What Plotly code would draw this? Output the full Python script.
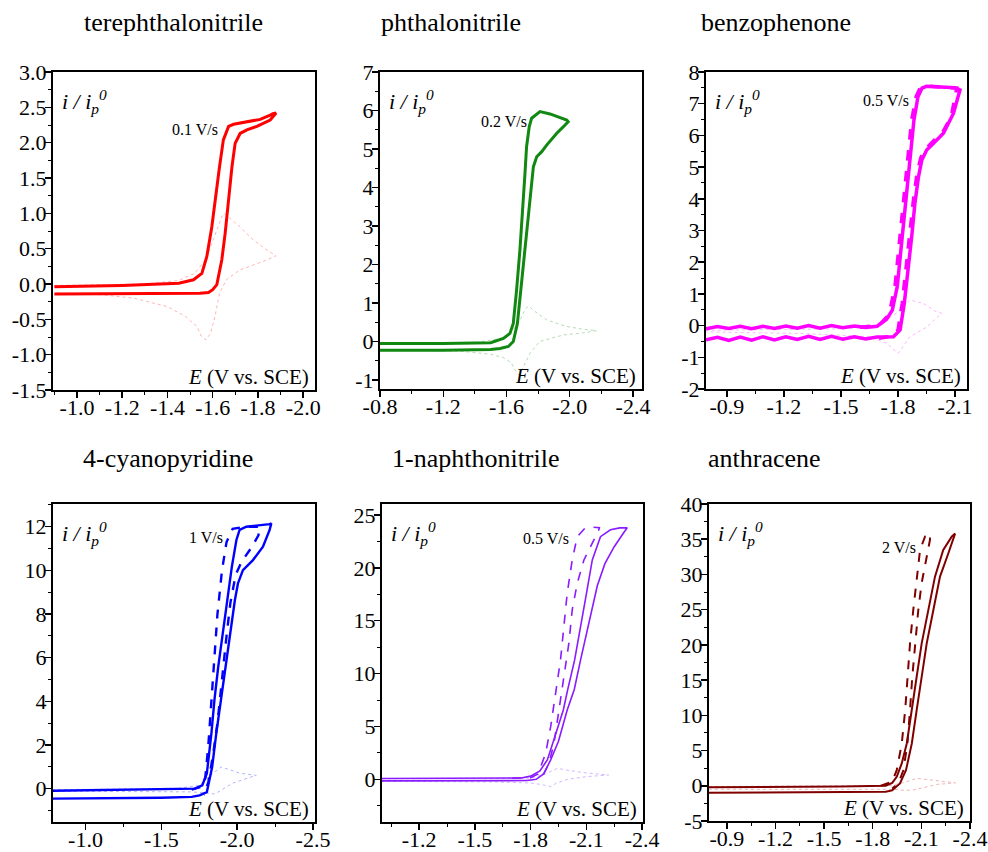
import plotly.graph_objects as go

# ---------------- data ----------------
TITLES = ["terephthalonitrile", "phthalonitrile", "benzophenone",
          "4-cyanopyridine", "1-naphthonitrile", "anthracene"]
RATES = ["0.1 V/s", "0.2 V/s", "0.5 V/s", "1 V/s", "0.5 V/s", "2 V/s"]

# tick labels (hyphen minus as in the reference)
X_TICKS = [
    [-1.0, -1.2, -1.4, -1.6, -1.8, -2.0],
    [-0.8, -1.2, -1.6, -2.0, -2.4],
    [-0.9, -1.2, -1.5, -1.8, -2.1],
    [-1.0, -1.5, -2.0, -2.5],
    [-1.2, -1.5, -1.8, -2.1, -2.4],
    [-0.9, -1.2, -1.5, -1.8, -2.1, -2.4],
]
X_TEXT = [
    ["-1.0", "-1.2", "-1.4", "-1.6", "-1.8", "-2.0"],
    ["-0.8", "-1.2", "-1.6", "-2.0", "-2.4"],
    ["-0.9", "-1.2", "-1.5", "-1.8", "-2.1"],
    ["-1.0", "-1.5", "-2.0", "-2.5"],
    ["-1.2", "-1.5", "-1.8", "-2.1", "-2.4"],
    ["-0.9", "-1.2", "-1.5", "-1.8", "-2.1", "-2.4"],
]
Y_TICKS = [
    [-1.5, -1.0, -0.5, 0.0, 0.5, 1.0, 1.5, 2.0, 2.5, 3.0],
    [-1, 0, 1, 2, 3, 4, 5, 6, 7],
    [-2, -1, 0, 1, 2, 3, 4, 5, 6, 7, 8],
    [0, 2, 4, 6, 8, 10, 12],
    [0, 5, 10, 15, 20, 25],
    [-5, 0, 5, 10, 15, 20, 25, 30, 35, 40],
]
Y_TEXT = [
    ["-1.5", "-1.0", "-0.5", "0.0", "0.5", "1.0", "1.5", "2.0", "2.5", "3.0"],
    ["-1", "0", "1", "2", "3", "4", "5", "6", "7"],
    ["-2", "-1", "0", "1", "2", "3", "4", "5", "6", "7", "8"],
    ["0", "2", "4", "6", "8", "10", "12"],
    ["0", "5", "10", "15", "20", "25"],
    ["-5", "0", "5", "10", "15", "20", "25", "30", "35", "40"],
]

# 1) terephthalonitrile : solid CV loop
TPN_E = [-0.90, -1.20, -1.45, -1.544, -1.581, -1.600, -1.618, -1.640, -1.655, -1.669, -1.685,
         -1.699, -1.721, -1.751, -1.795, -1.854, -1.880, -1.866, -1.854, -1.810, -1.751, -1.692,
         -1.670, -1.647, -1.630, -1.611, -1.596, -1.574, -1.552, -1.515, -1.45, -1.20, -0.90]
TPN_I = [-0.14, -0.14, -0.13, -0.13, -0.12, -0.08, -0.01, 0.34, 0.72, 1.19, 1.66,
         1.99, 2.13, 2.18, 2.23, 2.32, 2.42, 2.41, 2.39, 2.33, 2.30, 2.26,
         2.23, 2.04, 1.66, 1.19, 0.81, 0.39, 0.15, 0.06, 0.01, -0.02, -0.04]
TPN_REF_E = [-0.90, -1.30, -1.45, -1.52, -1.57, -1.61, -1.64, -1.65, -1.72, -1.78, -1.84, -1.88,
             -1.84, -1.78, -1.72, -1.66, -1.63, -1.61, -1.59, -1.57, -1.55, -1.53, -1.48, -1.40,
             -1.25, -1.10, -0.90]
TPN_REF_I = [-0.02, 0.00, 0.05, 0.15, 0.35, 0.70, 0.95, 1.00, 0.81, 0.62, 0.48, 0.40,
             0.34, 0.27, 0.20, 0.06, -0.13, -0.46, -0.70, -0.79, -0.74, -0.60, -0.46, -0.32,
             -0.20, -0.15, -0.13]

# 2) phthalonitrile
PN_E = [-0.80, -1.20, -1.50, -1.559, -1.612, -1.643, -1.669, -1.690, -1.711, -1.732, -1.753, -1.770,
        -1.791, -1.823, -1.854, -1.918, -1.960, -1.990, -1.981, -1.938, -1.875, -1.812, -1.780, -1.759,
        -1.744, -1.727, -1.717, -1.702, -1.685, -1.664, -1.643, -1.622, -1.580, -1.50, -1.20, -0.80]
PN_I = [-0.23, -0.23, -0.21, -0.18, -0.13, 0.00, 0.47, 1.34, 2.20, 3.07, 3.94, 4.54,
        4.80, 4.93, 5.10, 5.41, 5.58, 5.71, 5.75, 5.82, 5.91, 5.97, 5.88, 5.80,
        5.58, 5.06, 4.37, 3.42, 2.38, 1.34, 0.47, 0.21, 0.08, -0.03, -0.05, -0.05]
PN_REF_E = [-0.80, -1.40, -1.60, -1.68, -1.72, -1.74, -1.78, -1.854, -1.98, -2.08, -2.17, -2.08,
            -1.96, -1.81, -1.75, -1.71, -1.68, -1.66, -1.63, -1.58, -1.50, -1.30, -0.80]
PN_REF_I = [-0.05, -0.03, 0.10, 0.50, 0.85, 0.92, 0.78, 0.56, 0.39, 0.32, 0.28, 0.22,
            0.17, 0.00, -0.30, -0.65, -0.87, -0.78, -0.55, -0.42, -0.33, -0.25, -0.22]

# 3) benzophenone (wavy baselines)
BP_BASE_E = [-0.79, -0.85, -0.91, -0.97, -1.03, -1.09, -1.15, -1.21,
             -1.27, -1.33, -1.39, -1.45, -1.51, -1.57, -1.63, -1.69]
BP_LOW_I = [-0.45, -0.37, -0.47, -0.36, -0.46, -0.35, -0.45, -0.35,
            -0.44, -0.34, -0.44, -0.34, -0.43, -0.35, -0.42, -0.36]
BP_UP_I = [-0.10, -0.03, -0.09, -0.02, -0.10, -0.02, -0.09, -0.01,
           -0.08, 0.00, -0.08, 0.00, -0.07, -0.01, -0.06, -0.02]
BP_RISE_E = [-1.776, -1.811, -1.833, -1.854, -1.872, -1.889, -1.908, -1.925, -1.951, -1.987,
             -2.039, -2.092, -2.126]
BP_RISE_I = [-0.35, -0.14, 0.70, 1.75, 2.80, 3.86, 4.70, 5.22, 5.54, 5.75,
             6.07, 6.70, 7.43]
BP_BACK_E = [-2.10, -2.05, -1.95, -1.926, -1.905, -1.884, -1.866, -1.849, -1.831, -1.814,
             -1.796, -1.770, -1.74]
BP_BACK_I = [7.50, 7.52, 7.55, 7.49, 7.22, 6.49, 5.44, 4.38, 3.33, 2.28,
             1.23, 0.49, 0.20]
BPD_E = [-1.60, -1.70, -1.745, -1.758, -1.784, -1.802, -1.819, -1.837, -1.854, -1.872,
         -1.895, -1.916, -1.95, -2.05, -2.109, -2.10, -2.08, -2.04, -1.99, -1.95,
         -1.92, -1.90, -1.88, -1.86, -1.843, -1.822, -1.80, -1.77, -1.70]
BPD_I = [-0.05, 0.00, 0.30, 0.49, 1.23, 2.28, 3.33, 4.38, 5.44, 6.49,
         7.22, 7.49, 7.56, 7.53, 7.49, 7.20, 6.60, 6.15, 5.85, 5.60,
         5.30, 4.80, 3.90, 2.80, 1.75, 0.70, -0.14, -0.33, -0.40]
BP_REF_E = [-0.79, -1.50, -1.69, -1.79, -1.863, -1.933, -2.00, -2.03, -1.95, -1.863, -1.802,
            -1.74, -1.65, -1.30, -0.79]
BP_REF_I = [-0.15, -0.10, -0.03, 0.39, 0.81, 0.70, 0.44, 0.39, -0.05, -0.35, -0.87,
            -0.56, -0.35, -0.25, -0.20]

# 4) 4-cyanopyridine
CP_OUT_E = [-0.78, -1.20, -1.50, -1.70, -1.752, -1.80, -1.835, -1.862, -1.892, -1.925,
            -1.955, -1.985, -2.005, -2.038, -2.104, -2.170, -2.214, -2.225]
CP_OUT_I = [-0.46, -0.44, -0.42, -0.38, -0.31, -0.16, 0.99, 2.52, 4.05, 5.58,
            7.11, 8.64, 9.40, 10.01, 10.47, 11.08, 11.85, 12.15]
CP_BACK_E = [-2.214, -2.06, -2.016, -1.995, -1.965, -1.935, -1.905, -1.875, -1.85, -1.83,
             -1.80, -1.77, -1.72, -1.50, -1.20, -0.78]
CP_BACK_I = [12.12, 12.00, 11.85, 11.39, 10.17, 8.64, 7.11, 5.58, 4.05, 2.52,
             0.69, 0.15, 0.00, -0.02, -0.05, -0.10]
CPD_E = [-1.70, -1.77, -1.79, -1.81, -1.83, -1.85, -1.87, -1.90, -1.93, -1.97,
         -2.05, -2.15, -2.14, -2.09, -2.03, -1.99, -1.955, -1.93, -1.90, -1.87,
         -1.84, -1.81, -1.78]
CPD_I = [-0.05, 0.10, 0.50, 2.00, 4.00, 6.00, 8.00, 10.00, 11.30, 11.90,
         12.00, 12.00, 11.60, 11.00, 10.40, 9.80, 8.50, 7.00, 5.00, 3.00,
         1.50, 0.30, -0.30]
CP_REF_E = [-0.78, -1.60, -1.75, -1.84, -1.895, -1.95, -2.02, -2.126, -2.05, -1.97, -1.90,
            -1.85, -1.80, -1.70, -0.78]
CP_REF_I = [-0.05, 0.00, 0.15, 0.70, 0.99, 0.85, 0.70, 0.61, 0.45, 0.25, -0.05,
            -0.25, -0.20, -0.15, -0.12]

# 5) 1-naphthonitrile
NN_OUT_E = [-1.00, -1.50, -1.78, -1.83, -1.87, -1.908, -1.95, -1.997, -2.035, -2.069,
            -2.108, -2.159, -2.20, -2.25, -2.30, -2.32]
NN_OUT_I = [-0.15, -0.14, -0.12, 0.00, 0.50, 1.83, 3.60, 6.56, 8.50, 11.29,
            14.44, 18.30, 20.40, 22.00, 23.30, 23.80]
NN_BACK_E = [-2.28, -2.23, -2.176, -2.132, -2.101, -2.069, -2.037, -2.00, -1.976, -1.93,
             -1.89, -1.85, -1.80, -1.75, -1.50, -1.00]
NN_BACK_I = [23.78, 23.60, 22.95, 20.75, 17.60, 14.44, 11.29, 8.50, 6.56, 4.00,
             1.83, 0.80, 0.30, 0.12, 0.10, 0.08]
NND_E = [-1.70, -1.80, -1.84, -1.881, -1.908, -1.935, -1.961, -1.979, -1.997, -2.024,
         -2.051, -2.09, -2.13, -2.17, -2.167, -2.132, -2.087, -2.051, -2.024, -2.006,
         -1.979, -1.952, -1.926, -1.899, -1.87, -1.84]
NND_I = [0.10, 0.15, 0.50, 2.46, 4.98, 8.14, 11.29, 14.44, 17.60, 20.75,
         22.95, 23.70, 23.85, 23.80, 23.59, 22.33, 20.75, 18.54, 16.02, 12.87,
         9.71, 6.56, 3.41, 1.51, 0.50, 0.20]
NN_REF_E = [-1.00, -1.80, -1.88, -1.944, -2.00, -2.10, -2.22, -2.10, -2.00, -1.94, -1.908,
            -1.86, -1.80, -1.60, -1.00]
NN_REF_I = [0.05, 0.10, 0.50, 1.04, 0.85, 0.60, 0.41, 0.25, 0.00, -0.35, -0.70,
            -0.50, -0.35, -0.25, -0.20]

# 6) anthracene
AN_OUT_E = [-0.79, -1.20, -1.60, -1.88, -1.92, -1.968, -2.005, -2.041, -2.071, -2.102,
            -2.133, -2.174, -2.215, -2.266, -2.308]
AN_OUT_I = [-1.00, -0.95, -0.95, -0.85, -0.65, 0.34, 2.20, 6.00, 10.75, 15.48,
            20.22, 24.95, 29.69, 32.97, 35.80]
AN_BACK_E = [-2.287, -2.235, -2.184, -2.143, -2.102, -2.071, -2.041, -2.010, -1.979, -1.948,
             -1.92, -1.88, -1.60, -1.20, -0.79]
AN_BACK_I = [35.37, 33.48, 29.69, 24.95, 20.22, 15.48, 10.75, 6.00, 3.17, 1.28,
             0.40, 0.00, -0.10, -0.10, -0.20]
AND_E = [-1.85, -1.92, -1.948, -1.979, -2.000, -2.014, -2.030, -2.050, -2.071, -2.092,
         -2.123, -2.153, -2.153, -2.133, -2.102, -2.081, -2.061, -2.044, -2.030, -2.014,
         -1.989, -1.958, -1.92]
AND_I = [0.00, 0.60, 2.22, 5.97, 10.70, 15.48, 20.20, 24.95, 29.70, 33.50,
         35.40, 35.80, 34.90, 32.50, 28.80, 24.95, 20.20, 15.48, 10.75, 6.00,
         2.20, 0.35, -0.40]
AN_REF_E = [-0.79, -1.90, -2.00, -2.07, -2.15, -2.23, -2.31, -2.20, -2.10, -2.05, -2.00,
            -1.95, -1.85, -0.79]
AN_REF_I = [-0.10, 0.00, 0.50, 1.05, 0.85, 0.60, 0.42, 0.20, -0.30, -0.60, -0.65,
            -0.55, -0.50, -0.50]

# ---------------- assemble curves ----------------
solid = [
    (TPN_E, TPN_I),
    (PN_E, PN_I),
    (BP_BASE_E + BP_RISE_E + BP_BACK_E + BP_BASE_E[::-1],
     BP_LOW_I + BP_RISE_I + BP_BACK_I + BP_UP_I[::-1]),
    (CP_OUT_E + CP_BACK_E, CP_OUT_I + CP_BACK_I),
    (NN_OUT_E + NN_BACK_E, NN_OUT_I + NN_BACK_I),
    (AN_OUT_E + AN_BACK_E, AN_OUT_I + AN_BACK_I),
]
dashed = [None, None, (BPD_E, BPD_I), (CPD_E, CPD_I), (NND_E, NND_I), (AND_E, AND_I)]
refs = [(TPN_REF_E, TPN_REF_I), (PN_REF_E, PN_REF_I), (BP_REF_E, BP_REF_I),
        (CP_REF_E, CP_REF_I), (NN_REF_E, NN_REF_I), (AN_REF_E, AN_REF_I)]

# ---------------- styling / layout ----------------
W, H = 988, 852
BOX = [(53, 72, 315, 390), (380, 72, 642, 389), (706, 72, 967, 389),
       (53, 504, 315, 822), (382, 504, 643, 822), (709, 504, 970, 821)]
COLORS = ["#ff0000", "#118811", "#ff00ff", "#0000ff", "#8a1aff", "#800000"]
REFCOL = ["#ffb4b4", "#b4dcb4", "#ffb4ff", "#b4b4ff", "#d0b8ff", "#f0b4b4"]
WIDTHS = [3.0, 3.0, 3.5, 2.4, 1.6, 2.0]
XR = [(-0.894, -2.052), (-0.8, -2.457), (-0.79, -2.163),
      (-0.786, -2.513), (-1.0, -2.405), (-0.79, -2.40)]
YR = [(-1.5, 3.0), (-1.234, 7.0), (-2.0, 8.0), (-1.53, 13.04), (-4.04, 26.04), (-5.0, 40.0)]
XD = [0.2, 0.4, 0.3, 0.5, 0.3, 0.3]
YD = [0.5, 1, 1, 2, 5, 5]
RATE_POS = [(195, 130), (504, 122), (886, 101), (206, 537), (546, 538), (899, 547)]
TITLE_POS = [(173, 22), (451, 22), (776, 22), (168, 458), (476, 458), (764, 458)]

FONT = "Liberation Serif, Times New Roman, serif"

fig = go.Figure()
for k in range(6):
    ax = "" if k == 0 else str(k + 1)
    xa, ya = "x" + ax, "y" + ax
    re_, ri_ = refs[k]
    fig.add_trace(go.Scatter(x=re_, y=ri_, mode="lines", xaxis=xa, yaxis=ya,
                             line=dict(color=REFCOL[k], width=1, dash="dot"), hoverinfo="skip"))
    se, si = solid[k]
    fig.add_trace(go.Scatter(x=se, y=si, mode="lines", xaxis=xa, yaxis=ya,
                             line=dict(color=COLORS[k], width=WIDTHS[k]), hoverinfo="skip"))
    if dashed[k] is not None:
        de, di = dashed[k]
        fig.add_trace(go.Scatter(x=de, y=di, mode="lines", xaxis=xa, yaxis=ya,
                                 line=dict(color=COLORS[k], width=WIDTHS[k], dash="dash"),
                                 hoverinfo="skip"))

layout = dict(width=W, height=H, margin=dict(l=0, r=0, t=0, b=0, autoexpand=False),
              showlegend=False, template="none",
              paper_bgcolor="white", plot_bgcolor="white",
              font=dict(family=FONT, color="black", size=20))
annotations = []
for k in range(6):
    l, t, r, b = BOX[k]
    ax = "" if k == 0 else str(k + 1)
    common = dict(showline=True, mirror=True, linecolor="black", linewidth=2,
                  ticks="outside", ticklen=6, tickwidth=1.5, tickcolor="black",
                  showgrid=False, zeroline=False, automargin=False,
                  tickfont=dict(family=FONT, size=22, color="black"))
    layout["xaxis" + ax] = dict(common, domain=[l / W, r / W], anchor="y" + ax,
                                range=list(XR[k]), tickmode="array",
                                tickvals=X_TICKS[k], ticktext=X_TEXT[k],
                                ticklabelstandoff=-9,
                                minor=dict(tickmode="linear", tick0=0, dtick=XD[k] / 2,
                                           ticks="outside", ticklen=3,
                                           tickwidth=1, tickcolor="black", showgrid=False))
    layout["yaxis" + ax] = dict(common, domain=[1 - b / H, 1 - t / H], anchor="x" + ax,
                                range=list(YR[k]), tickmode="array",
                                tickvals=Y_TICKS[k], ticktext=Y_TEXT[k],
                                ticklabelstandoff=-6,
                                minor=dict(tickmode="linear", tick0=0, dtick=YD[k] / 2,
                                           ticks="outside", ticklen=3,
                                           tickwidth=1, tickcolor="black", showgrid=False))
    tx, ty = TITLE_POS[k]
    annotations.append(dict(text=TITLES[k], x=tx / W, y=1 - ty / H, xref="paper", yref="paper",
                            showarrow=False, xanchor="center", yanchor="middle",
                            font=dict(family=FONT, size=26, color="black")))
    annotations.append(dict(text="<i>i / i<sub>p</sub><sup>0</sup></i>", x=(l + 7) / W,
                            y=1 - (t + 12) / H, xref="paper", yref="paper", showarrow=False,
                            xanchor="left", yanchor="top",
                            font=dict(family=FONT, size=22, color="black")))
    annotations.append(dict(text="<i>E</i> (V vs. SCE)", x=(r - 4) / W, y=1 - (b - 13) / H,
                            xref="paper", yref="paper", showarrow=False,
                            xanchor="right", yanchor="middle",
                            font=dict(family=FONT, size=21, color="black")))
    rx, ry = RATE_POS[k]
    annotations.append(dict(text=RATES[k], x=rx / W, y=1 - ry / H, xref="paper", yref="paper",
                            showarrow=False, xanchor="center", yanchor="middle",
                            font=dict(family=FONT, size=16, color="black")))
layout["annotations"] = annotations
fig.update_layout(**layout)
fig.write_html("out.html", config={"displayModeBar": False, "staticPlot": True},
               post_script="document.body.style.margin='0';document.body.style.overflow='hidden';")
